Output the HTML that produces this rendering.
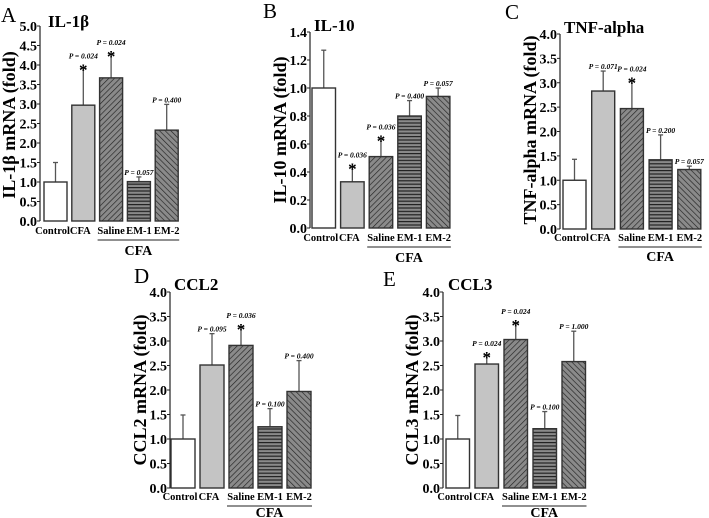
<!DOCTYPE html>
<html><head><meta charset="utf-8"><style>
html,body{margin:0;padding:0;background:#fff;}
svg{display:block;font-family:"Liberation Serif",serif;}
</style></head><body>
<svg id="fig" width="709" height="518" viewBox="0 0 709 518">
<defs>
<pattern id="pSal" patternUnits="userSpaceOnUse" width="4" height="4" patternTransform="rotate(45)"><rect width="4" height="4" fill="#8a8a8a"/><line x1="0" y1="0" x2="0" y2="4" stroke="#222" stroke-width="1.3"/></pattern>
<pattern id="pEm1" patternUnits="userSpaceOnUse" width="4" height="3.4"><rect width="4" height="3.4" fill="#8a8a8a"/><line x1="0" y1="0.6" x2="4" y2="0.6" stroke="#222" stroke-width="1.2"/></pattern>
<pattern id="pEm2" patternUnits="userSpaceOnUse" width="4" height="4" patternTransform="rotate(-45)"><rect width="4" height="4" fill="#8a8a8a"/><line x1="0" y1="0" x2="0" y2="4" stroke="#222" stroke-width="1.3"/></pattern>
</defs>
</svg>
<script>
const categories = ["Control","CFA","Saline","EM-1","EM-2"];
const valuesA = [1.0, 2.97, 3.67, 1.01, 2.33];
const errTopA = [1.5, 3.93, 4.28, 1.13, 2.99];
const pA = ["", "P = 0.024", "P = 0.024", "P = 0.057", "P = 0.400"];
const starA = [0,1,1,0,0];
const ticksA = ["0.0","0.5","1.0","1.5","2.0","2.5","3.0","3.5","4.0","4.5","5.0"];
const valuesB = [1.0, 0.33, 0.51, 0.80, 0.94];
const errTopB = [1.27, 0.44, 0.64, 0.91, 1.0];
const pB = ["", "P = 0.036", "P = 0.036", "P = 0.400", "P = 0.057"];
const starB = [0,1,1,0,0];
const ticksB = ["0.0","0.2","0.4","0.6","0.8","1.0","1.2","1.4"];
const valuesC = [1.0, 2.83, 2.47, 1.42, 1.22];
const errTopC = [1.43, 3.24, 3.05, 1.93, 1.29];
const pC = ["", "P = 0.071", "P = 0.024", "P = 0.200", "P = 0.057"];
const starC = [0,0,1,0,0];
const ticks4 = ["0.0","0.5","1.0","1.5","2.0","2.5","3.0","3.5","4.0"];
const valuesD = [1.0, 2.51, 2.91, 1.25, 1.97];
const errTopD = [1.49, 3.15, 3.29, 1.62, 2.60];
const pD = ["", "P = 0.095", "P = 0.036", "P = 0.100", "P = 0.400"];
const starD = [0,0,1,0,0];
const valuesE = [1.0, 2.53, 3.03, 1.21, 2.58];
const errTopE = [1.48, 2.71, 3.37, 1.56, 3.20];
const pE = ["", "P = 0.024", "P = 0.024", "P = 0.100", "P = 1.000"];
const starE = [0,1,1,0,0];

const fills = ["#ffffff","#c4c4c4","url(#pSal)","url(#pEm1)","url(#pEm2)"];
const NS = "http://www.w3.org/2000/svg";
const svg = document.getElementById("fig");
function mk(tag, attrs, parent, text){
  const e = document.createElementNS(NS, tag);
  for (const k in attrs) e.setAttribute(k, attrs[k]);
  if (text !== undefined) e.textContent = text;
  (parent||svg).appendChild(e);
  return e;
}
function panel(o){
  const g = mk("g", {});
  
  
  const y = v => o.y0 - (v / o.max) * (o.y0 - o.yTop);
  const bx = i => o.x0 + o.off + i * o.step;
  const L = mk("text", {x:o.letter[0], y:o.letter[1], "font-size":21}, g, o.id);
  
  
  const T = mk("text", {x:o.title[0], y:o.title[1], "font-size":17, "font-weight":"bold"}, g, o.titleText);
  
  
  const YT = mk("text", {x:0, y:0, "font-size":18, "font-weight":"bold", "text-anchor":"middle",
    transform:`translate(${o.ytitle[0]},${o.ytitle[1]}) rotate(-90)`}, g, o.ytitleText);
  
  
  const ax = mk("line", {x1:o.x0, y1:o.yTop, x2:o.x0, y2:o.y0, stroke:"#222", "stroke-width":1.2}, g);
  
  
  const n = o.ticks.length;
  o.ticks.forEach((t, k) => {
    const v = o.max * k / (n - 1);
    const yy = y(v);
    mk("line", {x1:o.x0-3, y1:yy, x2:o.x0, y2:yy, stroke:"#222", "stroke-width":1}, g);
    const tl = mk("text", {x:o.x0-3, y:yy+5, "font-size":14, "font-weight":"bold", "text-anchor":"end"}, g, t);
    
    
  });
  o.vals.forEach((v, i) => {
    const x = bx(i), cx = x + o.bw/2;
    const et = y(o.err[i]);
    mk("line", {x1:cx, y1:et, x2:cx, y2:y(v), stroke:"#555", "stroke-width":1.3}, g);
    mk("line", {x1:cx-2.5, y1:et, x2:cx+2.5, y2:et, stroke:"#555", "stroke-width":1.3}, g);
    const r = mk("rect", {x:x, y:y(v), width:o.bw, height:o.y0 - y(v), fill:fills[i], stroke:"#333", "stroke-width":1.4}, g);
    
    
    let ty = et - 2;
    if (o.star[i]) {
      const s = mk("text", {x:cx, y:et+8, "font-size":17, "font-weight":"bold", "text-anchor":"middle"}, g, "*");
      
      
      ty = et - 9;
    }
    if (o.p[i]) {
      const p = mk("text", {x:cx, y:ty, "font-size":7.5, "font-weight":"bold", "font-style":"italic", "text-anchor":"middle"}, g, o.p[i]);
      
      
    }
    const cl = mk("text", {x:cx + (i===0?-3:(i===1?-3:0)), y:o.labY, "font-size":10.5, "font-weight":"bold", "text-anchor":"middle"}, g, categories[i]);
    
    
  });
  const ux1 = bx(2) - 2, ux2 = bx(4) + o.bw + 1;
  const ul = mk("line", {x1:ux1, y1:o.labY+6, x2:ux2, y2:o.labY+6, stroke:"#222", "stroke-width":1}, g);
  
  
  const gl = mk("text", {x:(ux1+ux2)/2, y:o.labY+o.cfaDy, "font-size":14, "font-weight":"bold", "text-anchor":"middle"}, g, "CFA");
  
  
}
panel({id:"A", x0:40, yTop:26, y0:221, max:5, off:4, step:27.8, bw:23, ticks:ticksA, vals:valuesA, err:errTopA, p:pA, star:starA,
  letter:[1,22], title:[48,27], titleText:"IL-1β", ytitle:[15,125], ytitleText:"IL-1β mRNA (fold)", labY:234, cfaDy:21});
panel({id:"B", x0:310, yTop:32, y0:228, max:1.4, off:2, step:28.6, bw:23.5, ticks:ticksB, vals:valuesB, err:errTopB, p:pB, star:starB,
  letter:[263,18], title:[314,31], titleText:"IL-10", ytitle:[286,130], ytitleText:"IL-10 mRNA (fold)", labY:241, cfaDy:21});
panel({id:"C", x0:560, yTop:34, y0:229, max:4, off:3, step:28.7, bw:23, ticks:ticks4, vals:valuesC, err:errTopC, p:pC, star:starC,
  letter:[505,19], title:[564,33], titleText:"TNF-alpha", ytitle:[536,130], ytitleText:"TNF-alpha  mRNA (fold)", labY:241, cfaDy:20});
panel({id:"D", x0:170, yTop:292, y0:488, max:4, off:1, step:29, bw:24, ticks:ticks4, vals:valuesD, err:errTopD, p:pD, star:starD,
  letter:[134,283], title:[174,290], titleText:"CCL2", ytitle:[146,390], ytitleText:"CCL2 mRNA (fold)", labY:500, cfaDy:17});
panel({id:"E", x0:443, yTop:292, y0:488, max:4, off:3, step:29, bw:23.5, ticks:ticks4, vals:valuesE, err:errTopE, p:pE, star:starE,
  letter:[383,286], title:[448,290], titleText:"CCL3", ytitle:[418,390], ytitleText:"CCL3 mRNA (fold)", labY:500, cfaDy:17});
</script>
</body></html>
